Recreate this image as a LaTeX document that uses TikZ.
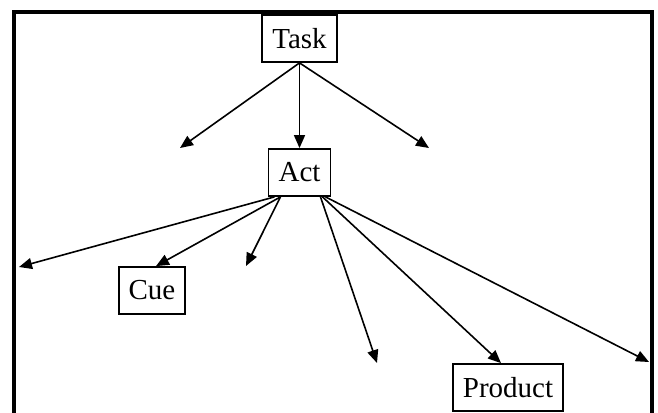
\documentclass[tikz,border=0pt]{standalone}
\usepackage{fontspec}
\setmainfont{Liberation Serif}
\usetikzlibrary{arrows.meta}
\tikzset{every picture/.style={line width=1.6pt}}

\begin{document}
\begin{tikzpicture}[x=1pt,y=-1pt,
    box/.style={draw, line width=1.8pt, inner xsep=10pt, minimum height=47pt, font=\fontsize{29}{31}\selectfont},
    link/.style={-{Triangle[length=13pt,width=11pt]}}]
    \useasboundingbox (0,0) rectangle (658,412);
    \draw[line width=4pt] (14,414) -- (14,12) -- (652,12) -- (652,414);
    \node[box] (task) at (299.5,38.5) {Task};
    \node[box] (act) at (299.5,172.5) {Act};
    \node[box] (cue) at (152,290.5) {Cue};
    \node[box] (product) at (508,387.5) {Product};
    \coordinate (tl) at (180,148);
    \coordinate (tr) at (429,148);
    \coordinate (al) at (19,267);
    \coordinate (am) at (246,266);
    \coordinate (ar) at (377,363);
    \coordinate (ae) at (649,362);
    \draw[link] (task.south) -- (tl);
    \draw[link] (task.south) -- (act.north);
    \draw[link] (task.south) -- (tr);
    \draw[link] ([xshift=-25pt]act.south) -- (al);
    \draw[link] ([xshift=-19pt]act.south) -- ([xshift=4pt]cue.north);
    \draw[link] ([xshift=-19pt]act.south) -- (am);
    \draw[link] ([xshift=21pt]act.south) -- (ar);
    \draw[link] ([xshift=23pt]act.south) -- ([xshift=-7pt]product.north);
    \draw[link] ([xshift=26pt]act.south) -- (ae);
\end{tikzpicture}
\end{document}
